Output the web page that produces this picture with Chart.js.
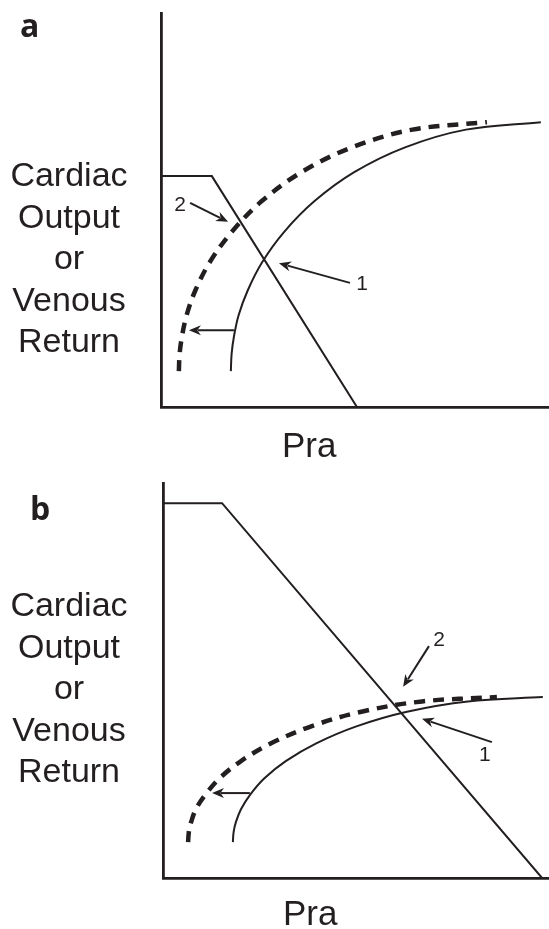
<!DOCTYPE html>
<html>
<head>
<meta charset="utf-8">
<script src="https://cdn.jsdelivr.net/npm/chart.js@4"></script>
<style>
  html, body { margin: 0; padding: 0; background: #fff; }
  body { width: 549px; height: 929px; position: relative; overflow: hidden; color: #231f20; }
  .panel { position: absolute; left: 0; width: 549px; }
  .letter { position: absolute; font-family: "Open Sans", sans-serif; font-weight: 700; font-size: 32px; line-height: 32px; }
  .ylab { position: absolute; left: 0; width: 138px; text-align: center; font-family: "Liberation Sans", Arial, sans-serif; font-size: 34px; line-height: 41.5px; }
  .xlab { position: absolute; font-family: "Liberation Sans", Arial, sans-serif; font-size: 35px; line-height: 35px; }
</style>
</head>
<body>
<div class="panel" style="top:0;height:465px"><canvas id="chartA" width="549" height="465"></canvas></div>
<div class="panel" style="top:465px;height:464px"><canvas id="chartB" width="549" height="464"></canvas></div>

<div class="letter" style="left:20px;top:9px">a</div>
<div class="ylab" style="top:154px">Cardiac<br>Output<br>or<br>Venous<br>Return</div>
<div class="xlab" style="left:282px;top:427px">Pra</div>

<div class="letter" style="left:30px;top:492px">b</div>
<div class="ylab" style="top:584px">Cardiac<br>Output<br>or<br>Venous<br>Return</div>
<div class="xlab" style="left:283px;top:895px">Pra</div>

<script>
// panel a : [Pra, flow] in plot units (0-100 on both axes)
var aCardiac = [[0, 58.6], [13.1, 58.6], [50.5, 0]];
var aReturn1 = [[18.0, 9.1], [18.2, 13.5], [18.8, 17.9], [20.0, 23.3], [22.4, 29.7], [26.1, 36.8],
                [31.7, 44.4], [39.5, 52.2], [49.8, 59.6], [62.9, 65.9], [78.6, 70.4], [97.9, 72.3]];
var aReturn2 = [[4.6, 9.1], [4.8, 13.5], [5.4, 17.9], [6.6, 23.3], [8.9, 29.7], [12.6, 36.8],
                [18.2, 44.4], [25.9, 52.2], [36.2, 59.6], [49.2, 65.9], [64.8, 70.4], [84.0, 72.3]];
var aArrows = [[18.8, 19.5, 7.2, 19.5], [7.5, 51.8, 17.3, 47.0], [48.7, 31.5, 30.4, 36.5]];
var aLabels = [['2', 4.9, 51.3], ['1', 51.8, 31.2]];

// panel b
var bCardiac = [[0, 94.9], [15.3, 94.9], [98.2, 0]];
var bReturn1 = [[18.1, 9.1], [18.3, 11.7], [18.9, 14.2], [20.2, 17.4], [22.5, 21.0], [26.2, 25.2],
                [31.8, 29.6], [39.7, 34.1], [50.1, 38.4], [63.2, 42.1], [79.0, 44.7], [98.4, 45.8]];
var bReturn2 = [[6.5, 9.1], [6.7, 11.7], [7.3, 14.2], [8.5, 17.4], [10.9, 21.0], [14.6, 25.2],
                [20.2, 29.6], [28.0, 34.1], [38.4, 38.4], [51.4, 42.1], [67.1, 44.7], [86.5, 45.8]];
var bArrows = [[22.5, 21.5, 12.7, 21.5], [68.9, 58.7, 62.2, 48.4], [85.2, 34.4, 67.1, 40.3]];
var bLabels = [['2', 71.5, 60.3], ['1', 83.4, 31.1]];

var ink = '#231f20';

function toPoints(list) {
    return list.map(function(p) { return { x: p[0], y: p[1] }; });
}

// arrows and the small 1 / 2 labels, placed through the chart scales
var markup = {
    id: 'markup',
    afterDatasetsDraw: function(chart, args, opts) {
        var ctx = chart.ctx;
        var sx = chart.scales.x, sy = chart.scales.y;
        ctx.save();
        ctx.strokeStyle = ink;
        ctx.fillStyle = ink;
        ctx.lineWidth = 2;
        opts.arrows.forEach(function(a) {
            var x0 = sx.getPixelForValue(a[0]), y0 = sy.getPixelForValue(a[1]);
            var x1 = sx.getPixelForValue(a[2]), y1 = sy.getPixelForValue(a[3]);
            var ang = Math.atan2(y1 - y0, x1 - x0);
            var len = 12, half = 5;
            var bx = x1 - len * Math.cos(ang), by = y1 - len * Math.sin(ang);
            ctx.beginPath();
            ctx.moveTo(x0, y0);
            ctx.lineTo(bx + 3 * Math.cos(ang), by + 3 * Math.sin(ang));
            ctx.stroke();
            ctx.beginPath();
            ctx.moveTo(x1, y1);
            ctx.lineTo(bx + half * Math.sin(ang), by - half * Math.cos(ang));
            ctx.lineTo(bx + 0.3 * len * Math.cos(ang), by + 0.3 * len * Math.sin(ang));
            ctx.lineTo(bx - half * Math.sin(ang), by + half * Math.cos(ang));
            ctx.closePath();
            ctx.fill();
        });
        ctx.font = '21px "Liberation Sans", Arial, sans-serif';
        ctx.textAlign = 'center';
        ctx.textBaseline = 'middle';
        opts.labels.forEach(function(l) {
            ctx.fillText(l[0], sx.getPixelForValue(l[1]), sy.getPixelForValue(l[2]));
        });
        ctx.restore();
    }
};

function makeChart(id, cardiac, ret1, ret2, arrows, labels, pad) {
    var axis = {
        type: 'linear',
        min: 0,
        max: 100,
        grid: { display: false, drawTicks: false },
        ticks: { display: false },
        border: { display: true, color: ink, width: 2.8 }
    };
    return new Chart(document.getElementById(id).getContext('2d'), {
        type: 'line',
        data: {
            datasets: [{
                data: toPoints(cardiac),
                borderColor: ink,
                borderWidth: 2,
                tension: 0
            }, {
                data: toPoints(ret1),
                borderColor: ink,
                borderWidth: 2,
                tension: 0.35
            }, {
                data: toPoints(ret2),
                borderColor: ink,
                borderWidth: 4.5,
                borderDash: [11, 8],
                borderCapStyle: 'butt',
                tension: 0.35
            }]
        },
        options: {
            responsive: false,
            animation: false,
            elements: { point: { radius: 0 } },
            layout: { padding: pad },
            scales: { x: axis, y: Object.assign({}, axis) },
            plugins: {
                legend: { display: false },
                tooltip: { enabled: false },
                markup: { arrows: arrows, labels: labels }
            }
        },
        plugins: [markup]
    });
}

makeChart('chartA', aCardiac, aReturn1, aReturn2, aArrows, aLabels, { left: 161, top: 13, right: 0, bottom: 58 });
makeChart('chartB', bCardiac, bReturn1, bReturn2, bArrows, bLabels, { left: 163, top: 18, right: 0, bottom: 51 });
</script>
</body>
</html>
